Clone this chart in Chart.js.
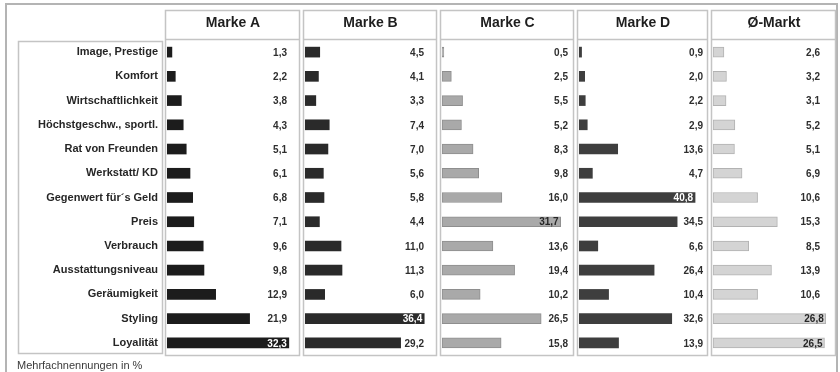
<!DOCTYPE html>
<html>
<head>
<meta charset="utf-8">
<script src="https://cdn.jsdelivr.net/npm/chart.js@4.4.1/dist/chart.umd.min.js"></script>
<style>
  html, body { margin: 0; padding: 0; background: #fff; }
  #wrap { position: relative; width: 840px; height: 372px; overflow: hidden; }
  #wrap canvas { position: absolute; left: 0; top: 0; }
  .frame { position: absolute; left: 5px; top: 3px; width: 833px; height: 380px;
           box-sizing: border-box; border: 2px solid #b4b4b4; }
  .note { position: absolute; left: 17px; top: 358px; font: 11px "Liberation Sans", Arial, sans-serif;
          line-height: 14px; color: #3a3a3a; white-space: nowrap; }
</style>
</head>
<body>
<div id="wrap">
  <div class="frame"></div>
  <canvas id="c0" width="840" height="372"></canvas>
  <canvas id="c1" width="840" height="372"></canvas>
  <canvas id="c2" width="840" height="372"></canvas>
  <canvas id="c3" width="840" height="372"></canvas>
  <canvas id="c4" width="840" height="372"></canvas>
  <div class="note">Mehrfachnennungen in %</div>
</div>
<script>
// Kaufgründe je Marke, Mehrfachnennungen in %
const categories = [
  'Image, Prestige', 'Komfort', 'Wirtschaftlichkeit', 'Höchstgeschw., sportl.',
  'Rat von Freunden', 'Werkstatt/ KD', 'Gegenwert für´s Geld', 'Preis',
  'Verbrauch', 'Ausstattungsniveau', 'Geräumigkeit', 'Styling', 'Loyalität'
];
const panelTitles = ['Marke A', 'Marke B', 'Marke C', 'Marke D', 'Ø-Markt'];
const markeA = [1.3, 2.2, 3.8, 4.3, 5.1, 6.1, 6.8, 7.1, 9.6, 9.8, 12.9, 21.9, 32.3];
const markeB = [4.5, 4.1, 3.3, 7.4, 7.0, 5.6, 5.8, 4.4, 11.0, 11.3, 6.0, 36.4, 29.2];
const markeC = [0.5, 2.5, 5.5, 5.2, 8.3, 9.8, 16.0, 31.7, 13.6, 19.4, 10.2, 26.5, 15.8];
const markeD = [0.9, 2.0, 2.2, 2.9, 13.6, 4.7, 40.8, 34.5, 6.6, 26.4, 10.4, 32.6, 13.9];
const markt  = [2.6, 3.2, 3.1, 5.2, 5.1, 6.9, 10.6, 15.3, 8.5, 13.9, 10.6, 26.8, 26.5];
const axisMax = [35, 40, 35, 45, 29];

const FONT = '"Liberation Sans", Arial, sans-serif';
const LINE = '#c4c4c4';

// layout and look of the five panels
const panelStyle = [
  { padLeft: 18,  areaRight: 299, fill: '#1c1c1c', edge: '#1c1c1c', dark: true,  inset: 12, labels: true },
  { padLeft: 305, areaRight: 436, fill: '#2a2a2a', edge: '#2a2a2a', dark: true,  inset: 12 },
  { padLeft: 442, areaRight: 573, fill: '#a9a9a9', edge: '#8e8e8e', dark: false, inset: 5 },
  { padLeft: 579, areaRight: 707, fill: '#3e3e3e', edge: '#3e3e3e', dark: true,  inset: 4 },
  { padLeft: 713, areaRight: 835, fill: '#d4d4d4', edge: '#b2b2b2', dark: false, inset: 15 }
];
const series = [markeA, markeB, markeC, markeD, markt];

const fmt = v => v.toFixed(1).replace('.', ',');

// panel frames, header rule and the category label box
const framePlugin = {
  id: 'panelFrame',
  beforeDatasetsDraw(chart, args, opts) {
    const a = chart.chartArea, ctx = chart.ctx;
    ctx.save();
    ctx.strokeStyle = LINE;
    ctx.lineWidth = 1.5;
    const L = a.left - 1.5, R = a.right + 0.5, T = 10.5, B = a.bottom + 0.5;
    ctx.strokeRect(L, T, R - L, B - T);
    ctx.beginPath();
    ctx.moveTo(L, a.top - 0.5);
    ctx.lineTo(R, a.top - 0.5);
    ctx.stroke();
    if (opts.labelBox) {
      ctx.strokeRect(18.5, a.top + 1.5, 144, a.bottom - a.top - 3);
    }
    ctx.restore();
  }
};

// value labels in a column near the right edge, or inside the bar end when it reaches them
const valuePlugin = {
  id: 'valueLabels',
  afterDatasetsDraw(chart, args, opts) {
    const ctx = chart.ctx, a = chart.chartArea;
    const meta = chart.getDatasetMeta(0);
    const values = chart.data.datasets[0].data;
    ctx.save();
    ctx.font = 'bold 10px ' + FONT;
    ctx.textAlign = 'right';
    ctx.textBaseline = 'middle';
    meta.data.forEach((bar, i) => {
      const txt = fmt(values[i]);
      const w = ctx.measureText(txt).width;
      let x = a.right - opts.inset;
      let color = '#2e2e2e';
      if (bar.x > x - w - 1) {
        x = bar.x - 2;
        color = opts.dark ? '#ffffff' : '#262626';
      }
      ctx.fillStyle = color;
      ctx.fillText(txt, x, bar.y + 1);
    });
    ctx.restore();
  }
};

panelStyle.forEach((st, k) => {
  const yAxis = {
    display: !!st.labels,
    grid: { display: false, drawTicks: false },
    border: { display: false },
    ticks: {
      padding: 9,
      color: '#262626',
      font: { family: FONT, size: 11, weight: 'bold' }
    }
  };
  if (st.labels) {
    yAxis.afterFit = scale => { scale.width = 149; };
  }
  new Chart(document.getElementById('c' + k), {
    type: 'bar',
    data: {
      labels: categories,
      datasets: [{
        data: series[k],
        backgroundColor: st.fill,
        borderColor: st.edge,
        borderWidth: st.dark ? 0 : 1,
        borderSkipped: false,
        barThickness: 10
      }]
    },
    plugins: [framePlugin, valuePlugin],
    options: {
      indexAxis: 'y',
      responsive: false,
      animation: false,
      events: [],
      layout: { padding: { left: st.padLeft, right: 840 - st.areaRight, top: 10, bottom: 17 } },
      scales: {
        x: { display: false, min: 0, max: axisMax[k] },
        y: yAxis
      },
      plugins: {
        legend: { display: false },
        tooltip: { enabled: false },
        title: {
          display: true,
          text: panelTitles[k],
          fullSize: false,
          color: '#1e1e1e',
          font: { family: FONT, size: 14, weight: 'bold', lineHeight: 1.2 },
          padding: { top: 5, bottom: 8.2 }
        },
        panelFrame: { labelBox: !!st.labels },
        valueLabels: { inset: st.inset, dark: st.dark }
      }
    }
  });
});
</script>
</body>
</html>
